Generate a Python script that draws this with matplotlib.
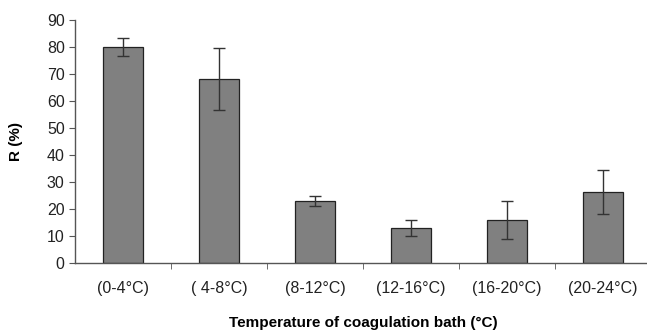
import matplotlib
matplotlib.use("Agg")
import matplotlib.pyplot as plt
import numpy as np

plt.rcParams['font.family'] = ['Liberation Sans', 'DejaVu Sans']

categorias = ["(0-4°C)", "( 4-8°C)", "(8-12°C)", "(12-16°C)", "(16-20°C)", "(20-24°C)"]
valori_r = [80.0, 68.0, 23.0, 13.0, 16.0, 26.2]
erori_r = [3.5, 11.5, 1.8, 3.0, 7.0, 8.2]

fig = plt.figure(figsize=(6.47, 3.33), dpi=100)
ax = fig.add_axes([0.116, 0.21, 0.89, 0.73])

x = np.arange(len(categorias))
ax.bar(x, valori_r, width=0.42, color='#808080', edgecolor='#222222', linewidth=0.9,
       yerr=erori_r, error_kw=dict(ecolor='#333333', elinewidth=1.0, capsize=4, capthick=1.0))

ax.set_xlim(-0.5, len(categorias) - 0.5)
ax.set_ylim(0, 90)
ax.set_yticks(range(0, 91, 10))
ax.set_xticks(x)
ax.set_xticklabels(categorias, fontsize=11.5, color='#222222')
ax.set_xticks(np.arange(0.5, len(categorias) - 0.5, 1.0), minor=True)
ax.tick_params(axis='x', which='major', length=0, pad=13)
ax.tick_params(axis='x', which='minor', length=4, direction='out', color='#555555')
ax.tick_params(axis='y', length=4, direction='out', labelsize=11.5, color='#555555', labelcolor='#222222')

for s in ['top', 'right']:
    ax.spines[s].set_visible(False)
for s in ['left', 'bottom']:
    ax.spines[s].set_color('#555555')
    ax.spines[s].set_linewidth(1.0)

ax.set_ylabel("R (%)", fontsize=11, fontweight='bold', labelpad=17)
ax.set_xlabel("Temperature of coagulation bath (°C)", fontsize=11, fontweight='bold', labelpad=14)

fig.savefig("out.png", dpi=100)
